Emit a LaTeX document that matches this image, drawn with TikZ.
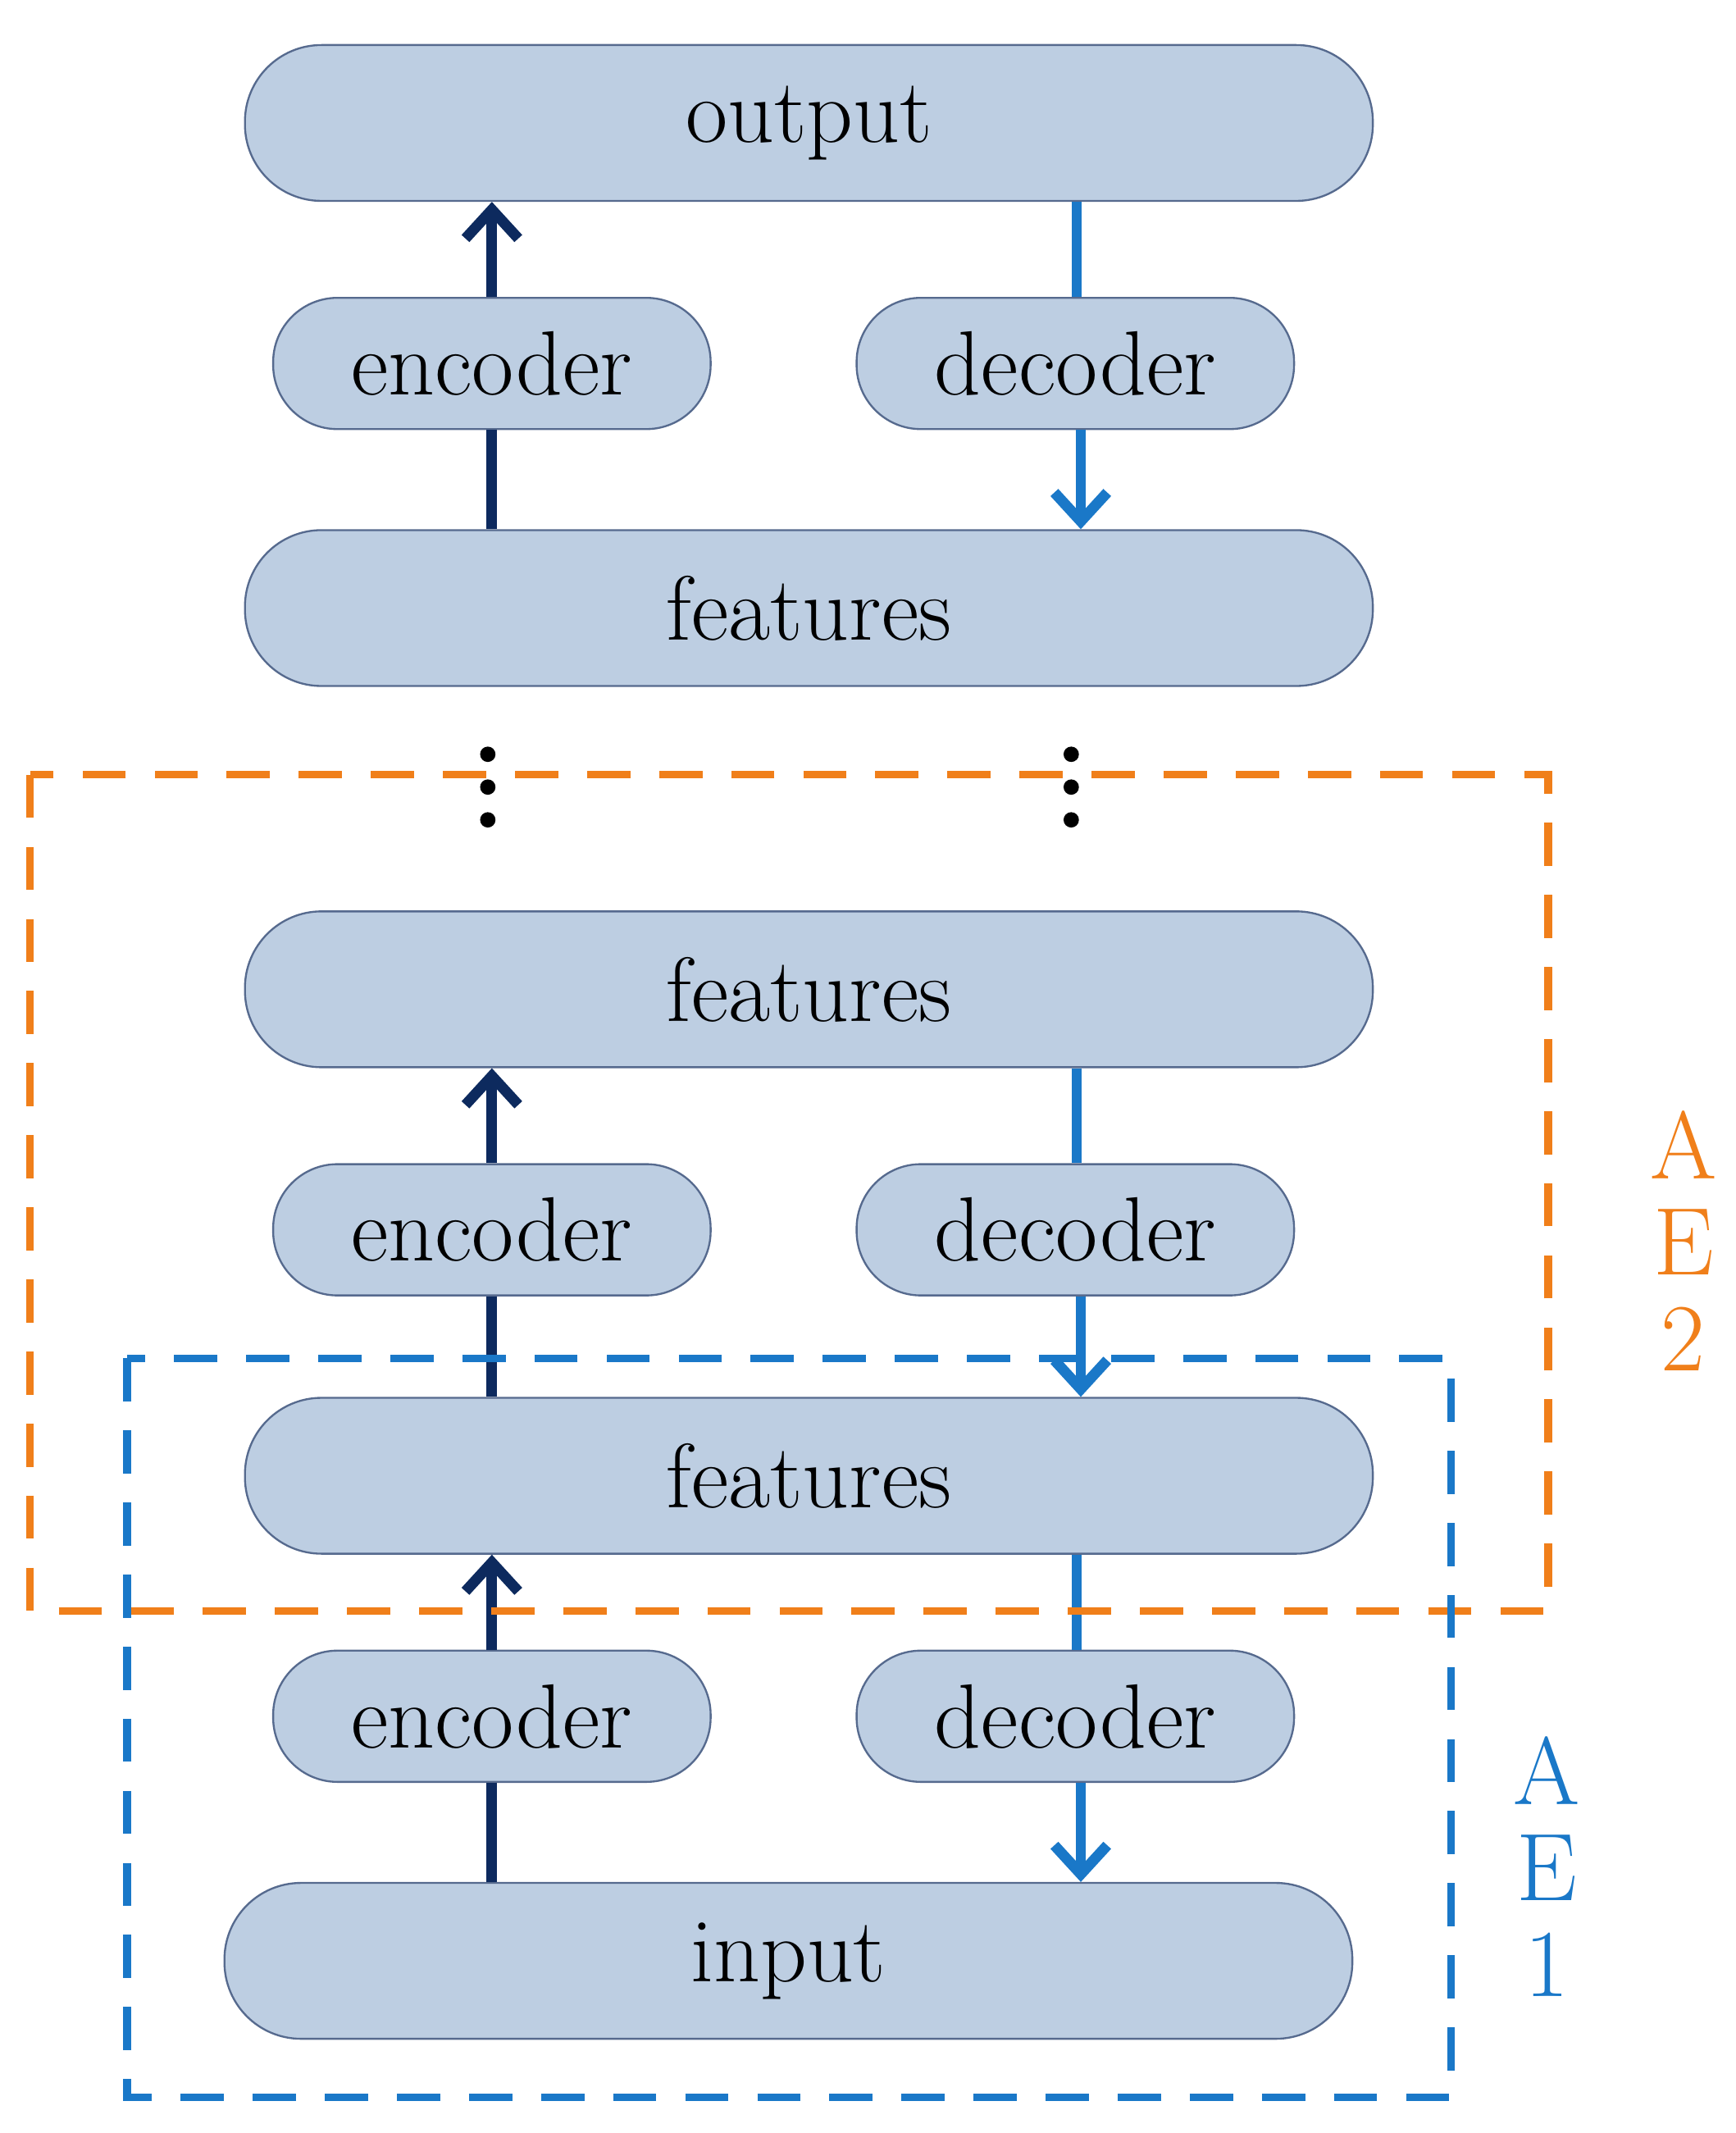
\documentclass[tikz,border=0pt]{standalone}
\usetikzlibrary{arrows.meta,positioning}
\definecolor{boxfill}{HTML}{BDCEE2}
\definecolor{navy}{HTML}{0D2A5E}
\definecolor{lblue}{HTML}{1A78C8}
\definecolor{orng}{HTML}{F07F1A}
\tikzset{
  big/.style={draw=navy!70, thin, fill=boxfill, rounded corners=0.56cm,
    minimum width=8.25cm, minimum height=1.14cm, font=\fontsize{19}{22}\selectfont},
  small/.style={draw=navy!70, thin, fill=boxfill, rounded corners=0.47cm,
    minimum width=3.2cm, minimum height=0.96cm, font=\fontsize{19}{22}\selectfont},
  enc/.style={navy, line width=2.2pt},
  dec/.style={lblue, line width=2.2pt},
  tip/.style={-{Straight Barb[length=6pt,width=11pt,line width=2.2pt]}},
  ae/.style={dashed, dash pattern=on 9pt off 6pt, line width=1.6pt},
  lab/.style={font=\fontsize{20}{24}\selectfont, align=center}
}
\begin{document}
\begin{tikzpicture}[x=0.01cm,y=-0.01cm]
        \useasboundingbox (0,0) rectangle (1270,1561);
        % boxes of the stack
        \node [big] (out) at (592,90) {output};
        \node [small] (enc3) at (360,266) {encoder};
        \node [small] (dec3) at (787,266) {decoder};
        \node [big] (feat3) at (592,445) {features};
        \node [big] (feat2) at (592,724) {features};
        \node [small] (enc2) at (360,900) {encoder};
        \node [small] (dec2) at (787,900) {decoder};
        \node [big] (feat1) at (592,1080) {features};
        \node [small] (enc1) at (360,1256) {encoder};
        \node [small] (dec1) at (787,1256) {decoder};
        \node [big] (in) at (577,1435) {input};
        % encoder paths
        \draw [enc] (enc1.south -| 360,0) -- (in.north -| 360,0);
        \draw [enc,tip] (enc1.north -| 360,0) -- (feat1.south -| 360,0);
        \draw [enc] (enc2.south -| 360,0) -- (feat1.north -| 360,0);
        \draw [enc,tip] (enc2.north -| 360,0) -- (feat2.south -| 360,0);
        \draw [enc] (enc3.south -| 360,0) -- (feat3.north -| 360,0);
        \draw [enc,tip] (enc3.north -| 360,0) -- (out.south -| 360,0);
        % decoder paths
        \draw [dec] (feat1.south -| 788,0) -- (dec1.north -| 788,0);
        \draw [dec,tip] (dec1.south -| 791,0) -- (in.north -| 791,0);
        \draw [dec] (feat2.south -| 788,0) -- (dec2.north -| 788,0);
        \draw [dec,tip] (dec2.south -| 791,0) -- (feat1.north -| 791,0);
        \draw [dec] (out.south -| 788,0) -- (dec3.north -| 788,0);
        \draw [dec,tip] (dec3.south -| 791,0) -- (feat3.north -| 791,0);
        % dots
        \foreach \x in {357,784}
          \foreach \y in {552,576,600}
            \fill (\x,\y) circle (1.6pt);
        % autoencoder frames
        \draw [ae, orng] (22,567) rectangle (1133,1179);
        \draw [ae, lblue] (93,994) rectangle (1062,1535);
        \node [lab, orng] (ae2) at (1232,908) {A\\[-4pt]E\\[-4pt]2};
        \node [lab, lblue] (ae1) at (1132,1366) {A\\[-4pt]E\\[-4pt]1};
\end{tikzpicture}
\end{document}
